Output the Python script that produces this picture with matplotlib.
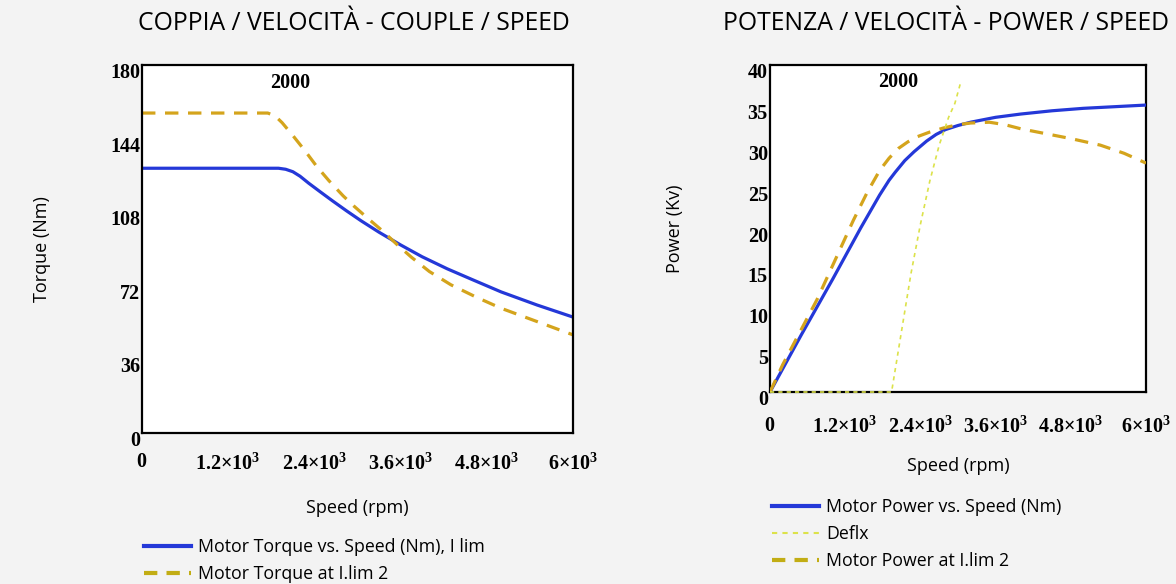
import numpy as np
import matplotlib
matplotlib.use("Agg")
import matplotlib.pyplot as plt
from matplotlib.lines import Line2D
from matplotlib.transforms import ScaledTranslation

plt.rcParams["mathtext.fontset"] = "custom"
plt.rcParams["mathtext.rm"] = "Liberation Serif"
plt.rcParams["mathtext.bf"] = "Liberation Serif:bold"

SANS = "Open Sans"
SERIF = "Liberation Serif"

# ---------------------------------------------------------------------------
# Data
# ---------------------------------------------------------------------------
# Torque vs speed
torque_speed = [0, 1900, 2000, 2100, 2200, 2320, 2480, 2650, 2850, 3050, 3300,
                3600, 3900, 4250, 4600, 5000, 5500, 6000]
torque_ilim = [129.5, 129.5, 129.0, 127.8, 125.6, 122.2, 118.0, 113.6, 108.6,
               103.8, 98.2, 92.0, 86.2, 80.3, 75.0, 69.0, 62.6, 56.7]

torque2_speed = [0, 1750, 1850, 1950, 2100, 2270, 2430, 2600, 2800, 2950, 3150,
                 3350, 3550, 3750, 4000, 4300, 4650, 5000, 5500, 6000]
torque_ilim2 = [156.5, 156.5, 155.2, 151.8, 145.5, 138.0, 130.5, 123.5, 116.0,
                111.0, 104.8, 98.8, 92.2, 86.0, 79.0, 72.5, 66.5, 61.0, 54.5, 48.0]

# Power vs speed
power_speed = [0, 500, 1000, 1450, 1750, 1900, 2000, 2150, 2300, 2500, 2650,
               2800, 3000, 3200, 3600, 4000, 4500, 5000, 5500, 6000]
power_ilim = [0, 7.0, 13.8, 20.1, 24.1, 25.9, 26.9, 28.3, 29.4, 30.7, 31.5,
              32.1, 32.6, 33.0, 33.6, 34.0, 34.4, 34.7, 34.9, 35.1]

power2_speed = [0, 200, 750, 1330, 1550, 1750, 1900, 2050, 2200, 2340, 2550,
                2770, 3000, 3200, 3500, 3750, 4000, 4400, 4800, 5270, 5650, 6000]
power_ilim2 = [0, 3.3, 11.3, 21.0, 24.4, 27.1, 28.6, 29.8, 30.6, 31.2, 31.8,
               32.3, 32.7, 32.9, 33.0, 32.7, 32.2, 31.6, 31.0, 30.2, 29.2, 28.0]

deflx_speed = [0, 1940, 2100, 2250, 2400, 2550, 2700, 2850, 2950, 3040]
deflx_power = [0, 0, 7.5, 14.5, 20.5, 25.8, 30.2, 33.6, 35.3, 37.8]

x_ticks = [0, 1200, 2400, 3600, 4800, 6000]
x_tick_labels = [r"$\mathbf{0}$", r"$\mathbf{1.2{\times}10^{3}}$", r"$\mathbf{2.4{\times}10^{3}}$",
                 r"$\mathbf{3.6{\times}10^{3}}$", r"$\mathbf{4.8{\times}10^{3}}$",
                 r"$\mathbf{6{\times}10^{3}}$"]
torque_ticks = [0, 36, 72, 108, 144, 180]
power_ticks = [0, 5, 10, 15, 20, 25, 30, 35, 40]

BLUE = "#2438d8"
GOLD = "#d4a41c"
GOLD_LEG = "#c2ad14"
DEFLX = "#dce24a"

# ---------------------------------------------------------------------------
# Figure
# ---------------------------------------------------------------------------
fig = plt.figure(figsize=(11.76, 5.84), dpi=100, facecolor="#f3f3f3")
ax1 = fig.add_axes([142 / 1176, 151 / 584, 431 / 1176, 368 / 584])
ax2 = fig.add_axes([770 / 1176, 192 / 584, 376 / 1176, 327 / 584])


def style_axes(ax, yticks, ylab_dy):
    ax.set_facecolor("white")
    for sp in ax.spines.values():
        sp.set_linewidth(1.6)
        sp.set_color("black")
    ax.set_xticks(x_ticks)
    ax.set_xticklabels(x_tick_labels)
    ax.set_yticks(yticks)
    ax.set_yticklabels([str(t) for t in yticks], fontfamily=SERIF,
                       fontweight="bold")
    ax.tick_params(axis="both", length=0, labelsize=14.5)
    ax.tick_params(axis="y", pad=1.5)
    ax.tick_params(axis="x", pad=14)
    off = ScaledTranslation(0, -ylab_dy / 72, fig.dpi_scale_trans)
    for lbl in ax.get_yticklabels():
        lbl.set_transform(lbl.get_transform() + off)


# ===== Left: torque / speed =====
ax = ax1
ax.plot(torque_speed, torque_ilim, color=BLUE, lw=2.3,
        label="Motor Torque vs. Speed (Nm), I lim")
ax.plot(torque2_speed, torque_ilim2, color=GOLD, lw=2.3, dashes=(4.2, 3.0),
        label="Motor Torque at I.lim 2")
ax.set_xlim(0, 6000)
ax.set_ylim(0, 180)
style_axes(ax, torque_ticks, 4)
ax.text(0.343, 0.951, "2000", transform=ax.transAxes, ha="center", va="center",
        fontsize=14.5, fontfamily=SERIF, fontweight="bold")
ax.set_xlabel("Speed (rpm)", fontsize=13, fontfamily=SANS)
ax.xaxis.set_label_coords(0.5, -0.18)
ax.set_ylabel("Torque (Nm)", fontsize=13, fontfamily=SANS)
ax.yaxis.set_label_coords(-0.211, 0.5)
fig.text(354 / 1176, 1 - 23 / 584, "COPPIA / VELOCITÀ - COUPLE / SPEED",
         ha="center", va="center", fontsize=17.8, fontfamily=SANS)
h1 = [Line2D([], [], color=BLUE, lw=3),
      Line2D([], [], color=GOLD_LEG, lw=3, dashes=(3.2, 2.2))]
fig.legend(h1, [l.get_label() for l in ax.get_lines()],
           loc="upper left", bbox_to_anchor=(128 / 1176, 1 - 522 / 584),
           frameon=False, handlelength=2.65, handletextpad=0.4,
           labelspacing=0.5, prop={"family": SANS, "size": 12.8})

# ===== Right: power / speed =====
ax = ax2
ax.plot(power_speed, power_ilim, color=BLUE, lw=2.3, zorder=3,
        label="Motor Power vs. Speed (Nm)")
ax.plot(deflx_speed, deflx_power, color=DEFLX, lw=1.2, dashes=(2.5, 2.5),
        zorder=4, clip_on=False, label="Deflx")
ax.plot(power2_speed, power_ilim2, color=GOLD, lw=2.3, dashes=(4.2, 3.0),
        zorder=3, label="Motor Power at I.lim 2")
ax.set_xlim(0, 6000)
ax.set_ylim(0, 40)
style_axes(ax, power_ticks, 4)
ax.tick_params(axis="x", pad=17)
ax.text(0.340, 0.948, "2000", transform=ax.transAxes, ha="center", va="center",
        fontsize=14.5, fontfamily=SERIF, fontweight="bold")
ax.set_xlabel("Speed (rpm)", fontsize=13, fontfamily=SANS)
ax.xaxis.set_label_coords(0.5, -0.2)
ax.set_ylabel("Power (Kv)", fontsize=13, fontfamily=SANS)
ax.yaxis.set_label_coords(-0.229, 0.5)
fig.text(946 / 1176, 1 - 23 / 584, "POTENZA / VELOCITÀ - POWER / SPEED",
         ha="center", va="center", fontsize=17.8, fontfamily=SANS)
h2 = [Line2D([], [], color=BLUE, lw=3),
      Line2D([], [], color=DEFLX, lw=1.5, dashes=(2.5, 2.5)),
      Line2D([], [], color=GOLD_LEG, lw=3, dashes=(3.2, 2.2))]
fig.legend(h2, [l.get_label() for l in ax.get_lines()],
           loc="upper left", bbox_to_anchor=(756 / 1176, 1 - 482 / 584),
           frameon=False, handlelength=2.65, handletextpad=0.4,
           labelspacing=0.5, prop={"family": SANS, "size": 12.8})

fig.savefig("out.png", dpi=100, facecolor=fig.get_facecolor())
